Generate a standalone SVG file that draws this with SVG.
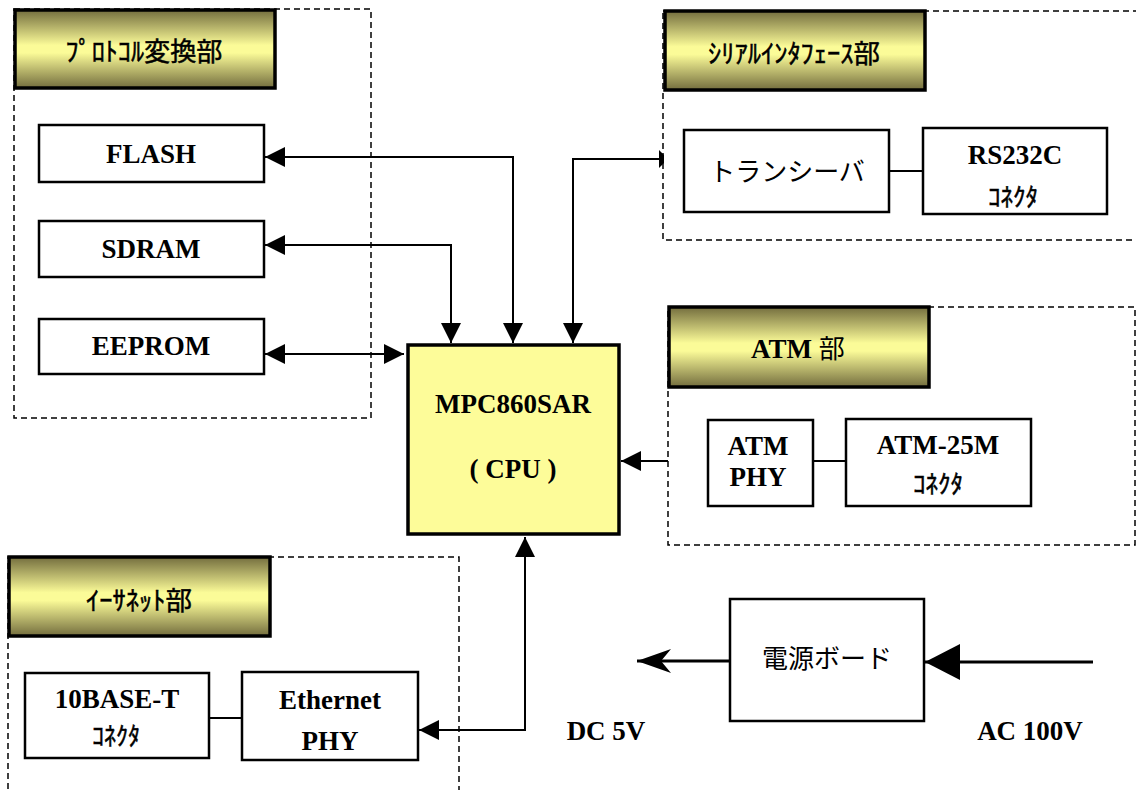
<svg xmlns="http://www.w3.org/2000/svg" width="1136" height="790" viewBox="0 0 1136 790">
<style>
.dash{fill:none;stroke:#000;stroke-width:1.5;stroke-dasharray:6 4}
.hdr{fill:url(#hg);stroke:#000;stroke-width:3.5}
.box{fill:#fff;stroke:#000;stroke-width:2.5}
.cpu{fill:#fdfc99;stroke:#000;stroke-width:3.5}
.en{font-family:"Liberation Serif","Noto Serif CJK JP",serif;font-weight:bold;font-size:27px;text-anchor:middle;fill:#000}
.jp{font-family:"Noto Sans CJK JP",sans-serif;font-size:26px;text-anchor:middle;fill:#000}
.jh{font-family:"Noto Sans CJK JP",sans-serif;font-size:26px;text-anchor:middle;fill:#000;stroke:#000;stroke-width:0.5}
.kn{font-family:"Noto Sans CJK JP",sans-serif;font-size:25px;text-anchor:middle;fill:#000;stroke:#000;stroke-width:0.5}
.ln{fill:none;stroke:#000;stroke-width:2}
.pw{fill:none;stroke:#000;stroke-width:3}
</style>
<defs>
<linearGradient id="hg" x1="0" y1="0" x2="0" y2="1">
<stop offset="0" stop-color="#736d3e"/>
<stop offset="0.45" stop-color="#fbfb98"/>
<stop offset="0.55" stop-color="#fbfb98"/>
<stop offset="1" stop-color="#736d3e"/>
</linearGradient>
<marker id="ah" markerUnits="userSpaceOnUse" viewBox="0 0 20 20" refX="20" refY="10" markerWidth="20" markerHeight="20" orient="auto-start-reverse">
<path d="M0,0 L20,10 L0,20 z" fill="#000"/>
</marker>
<marker id="big" markerUnits="userSpaceOnUse" viewBox="0 0 35 36" refX="35" refY="18" markerWidth="35" markerHeight="36" orient="auto">
<path d="M0,0 L35,18 L0,36 z" fill="#000"/>
</marker>
<marker id="stl" markerUnits="userSpaceOnUse" viewBox="0 0 34 26" refX="34" refY="13" markerWidth="34" markerHeight="26" orient="auto">
<path d="M0,1 L34,13 L0,25 L10,13 z" fill="#000"/>
</marker>
</defs>

<g id="protocol-section">
<rect class="dash" x="14" y="9" width="357" height="409"/>
<rect class="hdr" x="15" y="10" width="260" height="78"/>
<text class="jh" x="144" y="61" textLength="157" lengthAdjust="spacingAndGlyphs">ﾌﾟﾛﾄｺﾙ変換部</text>
</g>
<g id="serial-section">
<rect class="dash" x="663" y="11" width="480" height="229"/>
<rect class="hdr" x="665" y="11" width="260" height="79"/>
<text class="jh" x="794" y="63" textLength="172" lengthAdjust="spacingAndGlyphs">ｼﾘｱﾙｲﾝﾀﾌｪｰｽ部</text>
</g>
<g id="atm-section">
<rect class="dash" x="668" y="307" width="467" height="238"/>
<rect class="hdr" x="669" y="307" width="260" height="80"/>
<text class="en" x="798" y="358">ATM <tspan font-family="Noto Sans CJK JP,sans-serif" font-weight="normal" font-size="26">部</tspan></text>
</g>
<g id="ethernet-section">
<rect class="dash" x="8" y="557" width="451" height="250"/>
<rect class="hdr" x="9" y="557" width="261" height="79"/>
<text class="jh" x="139" y="610" textLength="106" lengthAdjust="spacingAndGlyphs">ｲｰｻﾈｯﾄ部</text>
</g>

<g id="connectors">
<path class="ln" d="M513,343 V157 H265" marker-start="url(#ah)" marker-end="url(#ah)"/>
<path class="ln" d="M451,343 V245 H265" marker-start="url(#ah)" marker-end="url(#ah)"/>
<path class="ln" d="M265,354 H404" marker-start="url(#ah)" marker-end="url(#ah)"/>
<path class="ln" d="M573,343 V159 H660" marker-start="url(#ah)"/>
<polygon points="659,150 664,155 664,163 659,168" fill="#000"/>
<path class="ln" d="M668,461 H621" marker-end="url(#ah)"/>
<path class="ln" d="M525,537 V730 H419" marker-start="url(#ah)" marker-end="url(#ah)"/>
<path class="pw" d="M1093,662 H925" marker-end="url(#big)"/>
<path class="pw" d="M730,661 H637" marker-end="url(#stl)"/>
<path class="ln" d="M890,171 H922"/>
<path class="ln" d="M814,461 H845"/>
<path class="ln" d="M210,718 H241"/>
</g>

<g id="flash"><rect class="box" x="39" y="125" width="225" height="57"/><text class="en" x="151" y="163">FLASH</text></g>
<g id="sdram"><rect class="box" x="39" y="221" width="225" height="56"/><text class="en" x="151" y="258">SDRAM</text></g>
<g id="eeprom"><rect class="box" x="39" y="319" width="225" height="55"/><text class="en" x="151" y="355">EEPROM</text></g>
<g id="cpu"><rect class="cpu" x="408" y="345" width="211" height="189"/><text class="en" x="513" y="413">MPC860SAR</text><text class="en" x="513" y="478">( CPU )</text></g>
<g id="transceiver"><rect class="box" x="684" y="130" width="205" height="82"/><text class="jp" x="787" y="181">トランシーバ</text></g>
<g id="rs232c"><rect class="box" x="923" y="128" width="184" height="86"/><text class="en" x="1015" y="164">RS232C</text><text class="kn" x="1013" y="206" textLength="50" lengthAdjust="spacingAndGlyphs">ｺﾈｸﾀ</text></g>
<g id="atm-phy"><rect class="box" x="708" y="420" width="105" height="86"/><text class="en" x="758" y="455">ATM</text><text class="en" x="758" y="486">PHY</text></g>
<g id="atm-25m"><rect class="box" x="846" y="419" width="185" height="87"/><text class="en" x="938" y="454">ATM-25M</text><text class="kn" x="938" y="493" textLength="50" lengthAdjust="spacingAndGlyphs">ｺﾈｸﾀ</text></g>
<g id="10base-t"><rect class="box" x="25" y="673" width="184" height="85"/><text class="en" x="117" y="708">10BASE-T</text><text class="kn" x="116" y="745" textLength="48" lengthAdjust="spacingAndGlyphs">ｺﾈｸﾀ</text></g>
<g id="ethernet-phy"><rect class="box" x="242" y="672" width="176" height="88"/><text class="en" x="330" y="709">Ethernet</text><text class="en" x="330" y="750">PHY</text></g>
<g id="power-board"><rect class="box" x="730" y="599" width="194" height="122"/><text class="jp" x="827" y="668">電源ボード</text></g>
<g id="labels"><text class="en" x="606" y="740">DC 5V</text><text class="en" x="1030" y="740">AC 100V</text></g>
</svg>
